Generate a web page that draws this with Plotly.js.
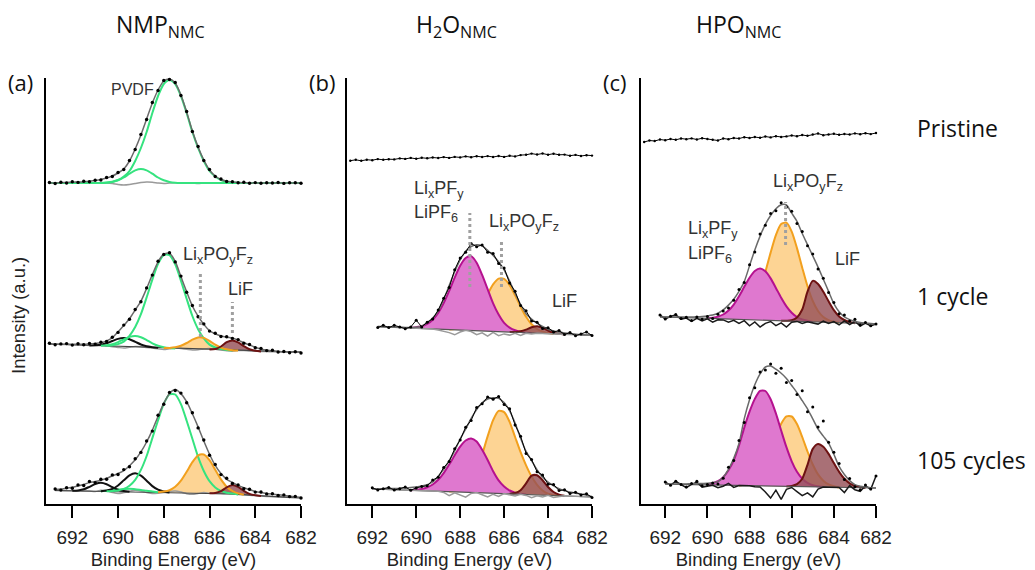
<!DOCTYPE html>
<html><head><meta charset="utf-8">
<script src="https://cdn.plot.ly/plotly-3.0.1.min.js"></script>
<style>html,body{margin:0;padding:0;background:#fff}#chart{width:1035px;height:570px}</style>
</head><body><div id="chart"></div>
<script>
const _ = null;
// Binding energy grid (eV)
const be = [693.00,692.75,692.50,692.25,692.00,691.75,691.50,691.25,691.00,690.75,
            690.50,690.25,690.00,689.75,689.50,689.25,689.00,688.75,688.50,688.25,
            688.00,687.75,687.50,687.25,687.00,686.75,686.50,686.25,686.00,685.75,
            685.50,685.25,685.00,684.75,684.50,684.25,684.00,683.75,683.50,683.25,
            683.00,682.75,682.50,682.25,682.00];
const tickE = [692,690,688,686,684,682];
const panelTitles = ['NMP<sub>NMC</sub>','H<sub>2</sub>O<sub>NMC</sub>','HPO<sub>NMC</sub>'];
const rowLabels = ['Pristine','1 cycle','105 cycles'];

// ---------- (a) NMP  pristine ----------
const a0Off = 321;
const a0Data = [0.5,-0.5,0.8,0,1.2,0.6,1.8,1.2,2.8,3, 5.5,6.5,10.5,13.5,22.5,33.5,48.5,63.5,80.5,92.5, 102.5,103.5,100.5,87.5,71.5,51.5,36.5,22.5,13.5,6.5, 4,1.5,1.3,0.2,0.8,-0.3,0.4,-0.2,0.3,0, 0.5,-0.4,0.2,0.3,-0.2];
const a0Env = [0,0,0.3,0.5,0.8,1,1.3,1.8,2.5,3.5, 5,7,10,14,22,34,48,64,80,93, 102,104,100,88,71,52,36,23,13,7, 3.5,1.8,1,0.5,0.3,0.2,0,0,0,0, 0,0,0,0,0];
const a0Pvdf = [0,0,0,0,0,0,0,0,0,0, 0.5,1.3,3,6.5,12,22,35,51,70,87, 99,103,99,87,70,51,35,22,12,6.5, 3,1.3,0.5,0.2,0,0,0,0,0,0, 0,0,0,0,0];
const a0Pvdf2 = [0,0,0,0,0,0,0,0,0,0, 0.3,1.1,2.7,5.5,9.3,12.6,14,12.6,9.3,5.5, 2.7,1.1,0.3,0,0,0,0,0,0,0, 0,0,0,0,0,0,0,0,0,0, 0,0,0,0,0];
const a0Resid = [0,0,0,0,0,0,0,0,0,0, 0,-0.5,-1.5,-2,-1.5,-0.5,0.5,1,0.8,0, -0.5,0,0.3,0,0,0,-0.5,0,0,0, 0,0,0,0,0,0,0,0,0,0, 0,0,0,0,0];

// ---------- (a) NMP  1 cycle ----------
const a1Off = 152;
const a1Bg = [8,7.8,7.6,7.4,7.2,7,6.8,6.6,6.4,6.2, 6,5.8,5.6,5.4,5.2,5,4.8,4.6,4.4,4.2, 4,3.8,3.6,3.4,3.2,3,2.8,2.6,2.4,2.2, 2,1.8,1.6,1.4,1.2,1,0.8,0.6,0.4,0.2, 0,0,0,0,0];
const a1Env = [0,0,0.2,0.3,0.5,0.7,1,1.3,2,3, 5,8.5,14.5,21,28,37,46,59,73,86, 94,95,87,72,57,43,33,25,19,16, 14,13,12.5,10.5,8,6,4,2.5,1.5,1, 0.5,0.3,0,0,0];
const a1Data = [0.8,-0.5,0.5,1,-0.3,1.2,0.5,2,1.5,3.5, 4.5,9,14,21.5,27.5,37.5,45.5,59.5,72.5,86.5, 93.5,95.5,86.5,72.5,56.5,43.5,32.5,25.5,18.5,16.5, 13.5,13.5,12,11,7.5,6.5,3.5,3,1,1.5, 0,0.5,-0.8,0.3,-1];
const a1Pvdf = [_,_,_,_,_,_,_,_,_,_, 0,0.9,2.3,5,11,20,33,50,68,84, 93,93,84,68,50,33,20,11,5,2.3, 0.9,0.3,0,_,_,_,_,_,_,_, _,_,_,_,_];
const a1Pvdf2 = [_,_,_,_,_,_,_,_,_,0, 0.8,2.1,4.3,7.3,9.9,11,9.9,7.3,4.3,2.1, 0.8,0.2,0,_,_,_,_,_,_,_, _,_,_,_,_,_,_,_,_,_, _,_,_,_,_];
const a1Black = [_,_,_,_,_,_,_,0,0.4,1.1, 2.7,5.2,7.5,8.5,7.5,5.2,2.7,1.1,0.4,0, _,_,_,_,_,_,_,_,_,_, _,_,_,_,_,_,_,_,_,_, _,_,_,_,_];
const a1Poyf = [_,_,_,_,_,_,_,_,_,_, _,_,_,_,_,_,_,_,_,_, 0,0.3,1.1,2.8,5.8,9.4,11.8,11.5,8.7,5.2, 2.4,0.85,0.2,0,_,_,_,_,_,_, _,_,_,_,_];
const a1Lif = [_,_,_,_,_,_,_,_,_,_, _,_,_,_,_,_,_,_,_,_, _,_,_,_,_,_,_,_,0,0.8, 3.5,8,10,8.2,4.6,1.7,0.4,0,_,_, _,_,_,_,_];
const a1Resid = [0,0,0,0,0,0,0,0,0,0.5, 0,-0.5,-1,-1.5,-0.5,0.5,0.5,0,-0.5,-1, -1.5,-0.5,0.5,0,-0.5,-1,-0.5,0.5,1,0.5, 0,-0.5,-0.8,0,0.3,0,0,0,0,0, 0,0,0,0,0];

// ---------- (a) NMP  105 cycles ----------
const a2Off = 6;
const a2Bg = [7.5,7.5,7.4,7.3,7.2,7.1,7,7,6.9,6.8, 6.7,6.6,6.5,6.4,6.3,6.2,6.1,6,5.9,5.8, 5.7,5.6,5.5,5.4,5.3,5.2,5.1,5,4.8,4.6, 4.4,4.2,4,3.6,3.2,2.8,2.4,2,1.6,1.3, 1,0.8,0.6,0.4,0.2];
const a2Env = [_,1,1.5,2.5,3.5,5,6.5,8.5,9.5,11, 13,15.5,18,21,26,32,40,50,62,76, 89,99,103,99,91,79,66,52,39,28, 20,14.5,11.5,9,7,5.5,4.2,3.5,3,2.6, 2.2,1.8,1.3,0.8,0.3];
const a2Data = [_,1.5,0.5,3,2.5,6,5.5,9.5,8.5,12, 12,16.5,17,22,25,33,39.5,51,61,77, 88,100,102,99.5,90,80,65,53,38,29, 19,15.5,10.5,9.5,6,6,3.5,4,2.5,3, 1.5,2.3,0.8,1.2,-0.2];
const a2Pvdf = [_,_,_,_,_,_,_,_,_,_, 0,0.4,1.1,2.7,6,12,22,36,54,72, 88.5,98,98,88.5,72,54,36,22,12,6, 2.7,1.1,0.4,0,_,_,_,_,_,_, _,_,_,_,_];
const a2Pvdf2 = [_,_,_,_,_,_,_,_,_,0, 0.6,1.2,2,2.5,3,2.5,2,1.2,0.6,0, _,_,_,_,_,_,_,_,_,_, _,_,_,_,_,_,_,_,_,_, _,_,_,_,_];
const a2Black1 = [_,_,_,_,_,_,_,_,_,0, 0.8,2.5,6,11.3,16.3,18.5,16.3,11.3,6,2.5, 0.8,0,_,_,_,_,_,_,_,_, _,_,_,_,_,_,_,_,_,_, _,_,_,_,_];
const a2Black2 = [_,_,_,_,0,0.5,1.7,4.2,7.1,8.5, 7.1,4.2,1.7,0.5,0,_,_,_,_,_, _,_,_,_,_,_,_,_,_,_, _,_,_,_,_,_,_,_,_,_, _,_,_,_,_];
const a2Poyf = [_,_,_,_,_,_,_,_,_,_, _,_,_,_,_,_,_,_,_,0, 0.7,2.2,5.7,11.9,20.9,30.6,37.6,38.5,33,23.6, 14.2,7.1,3,1,0,_,_,_,_,_, _,_,_,_,_];
const a2Lif = [_,_,_,_,_,_,_,_,_,_, _,_,_,_,_,_,_,_,_,_, _,_,_,_,_,_,_,_,0,0.5, 2.5,6.5,9,7.5,4,1.3,0.3,0,_,_, _,_,_,_,_];
const a2Resid = [_,0,0,0,0,0,0,0,-0.5,1, 0.5,-1,-2,-1,0.5,1.5,1,-0.5,-1.5,-1, 0,1,1.5,0.5,-1,-1.5,-0.5,0.5,0,0, 0,0,0,0,0,0,0,0,0,0, 0,0,0,0,0];

// ---------- (b) H2O  pristine ----------
const b0Off = 343;
const b0Data = [0.3,1.2,0.2,1.3,0.8,1.9,1.2,1.8,1.6,2.6, 2.1,3.1,2.2,3.2,2.7,3.5,3,3.9,3.1,4.1, 3.6,4.6,3.8,4.8,4,4.9,4,5,4.1,5.2, 4.6,5.9,6.2,7.4,6.5,7.5,6.3,7.3,6.2,6.4, 5.3,6.1,5,5.8,5.4];

// ---------- (b) H2O  1 cycle ----------
const b1Off = 169;
const b1Bg = [9.5,9.3,9.1,8.8,8.6,8.4,8.2,7.9,7.7,7.5, 7.3,7,6.8,6.6,6.3,6.1,5.9,5.7,5.4,5.2, 5,4.7,4.5,4.3,4.1,3.8,3.6,3.4,3.1,2.9, 2.7,2.5,2.2,2,1.8,1.6,1.3,1.1,0.9,0.6, 0.4,0.2,0,0,0];
const b1Env = [_,_,_,_,_,0,0,0,0,0.2, 0.3,0.6,1,2.2,6,11,18,30,44,58, 70,79,84,86,85,81,76,70,62,51, 39,28,19,14,10,7,4.5,3,2,1.5, 1,0.5,0.2,0,0];
const b1Data = [_,_,_,_,_,-1,1.5,-0.5,2,0.5, -1,1,8,1.5,6.5,10,19,31,42,60, 72,78,87,84,86,79,78,68,64,49, 41,27,22,12,11,5,6,2,3.5,0, 2,-1,1,3,-0.5];
const b1Pf = [_,_,_,_,_,_,_,_,_,_, _,0,1,2.2,4.7,9.2,16.2,26.2,38.7,52.2, 64.3,72.3,74.4,68,56,42,28,17,9,4.5, 2,0.8,0.3,0,_,_,_,_,_,_, _,_,_,_,_];
const b1Poyf = [_,_,_,_,_,_,_,_,_,_, _,_,_,_,_,_,_,_,0,0.7, 1.9,4.2,8.7,16,25.8,37,47,53,53,47, 37,25.8,16,8.7,4.2,1.9,0.7,0,_,_, _,_,_,_,_];
const b1Lif = [_,_,_,_,_,_,_,_,_,_, _,_,_,_,_,_,_,_,_,_, _,_,_,_,_,_,_,_,_,0, 0.3,1.2,3.2,5.7,7,5.7,3.2,1.2,0.3,0, _,_,_,_,_];
const b1Resid = [_,_,_,_,_,0,0,0,0,0, 0,0,0,0,0,0,-1,-2,-3,-5, -2,0,-1,-4,-2,-5,-1,-4,-2,-3, -1,-3,-0.5,-1,0,0,0,0,0,0, 0,0,0,0,0];

// ---------- (b) H2O  105 cycles ----------
const b2Off = 7;
const b2Bg = [9,8.8,8.6,8.4,8.2,8,7.8,7.6,7.4,7.2, 7,6.8,6.6,6.4,6.2,6,5.8,5.6,5.4,5.2, 5,4.8,4.6,4.4,4.2,4,3.8,3.6,3.4,3.2, 3,2.8,2.6,2.4,2.2,2,1.8,1.6,1.4,1.2, 1,0.8,0.6,0.3,0];
const b2Env = [_,_,_,_,0,0.3,0.5,0.8,1,1.5, 2,2.8,3.5,4.5,6,9,15,22,31,41, 53,63,74,83,90,94,95.5,95,91,83, 71,56,43,34,25,18,13,9.5,7,5, 4,3,2.5,1.5,0.5];
const b2Data = [_,_,_,_,1,-1,0.5,2,-0.5,1, 3,0,2.5,4,5,11,14,24,30,43, 52,65,72,85,89,96,94,97,89,85, 69,58,41,35,23,20,11,11,5,6, 2.5,4,1.5,3,-0.5];
const b2Pf = [_,_,_,_,_,_,_,_,_,_, _,0,0.7,1.6,3.4,6.5,11.4,18.3,27,36.6, 45.4,51.7,54,51,43,33,22,13,7,3.3, 1.4,0.5,0,_,_,_,_,_,_,_, _,_,_,_,_];
const b2Poyf = [_,_,_,_,_,_,_,_,_,_, _,_,_,_,_,_,_,_,0,0.7, 2.1,5.3,11.6,22.5,38.2,56.6,73.1,82.6,81.5,72, 57,42,29,18,10,4.5,1.5,0.4,0,_, _,_,_,_,_];
const b2Lif = [_,_,_,_,_,_,_,_,_,_, _,_,_,_,_,_,_,_,_,_, _,_,_,_,_,_,_,_,_,0, 1,4,11,18.9,19.5,14.8,8.2,3.4,1,0, _,_,_,_,_];
const b2Resid = [_,_,_,_,0,0,0,0,0,0, 0,0,0,0,0,0,0,-1,-4,-1, -3,-5,-1,0,-2,-4,-1,-3,0,-1, -2,0,-1,-3,-1,-2,0,-2,-1,0, 0,0,0,0,0];

// ---------- (c) HPO  pristine ----------
const c0Off = 362;
const c0Data = [0,1.5,1,2.5,1.8,3,2.2,3.5,2.8,3.6, 2.5,3.8,3,2.2,1.5,3.5,2.8,4,3.5,4.8, 4,5,4.2,5.5,4.6,5.8,5,5.6,6.5,5.8, 7,6.2,7.5,8.5,6.8,7.5,8.2,7.2,8,7.5, 8.6,7.8,8.8,7.9,9];

// ---------- (c) HPO  1 cycle ----------
const c1Off = 180;
const c1Bg = [7.7,7.5,7.3,7.1,7,6.8,6.6,6.5,6.3,6.1, 6,5.8,5.6,5.4,5.3,5.1,4.9,4.7,4.6,4.4, 4.2,4,3.9,3.7,3.5,3.3,3.2,3,2.8,2.6, 2.5,2.3,2.1,1.9,1.8,1.6,1.4,1.2,1.1,0.9, 0.7,0.5,0.4,0.2,0];
const c1Env = [_,_,_,0,0,0.2,0.4,0.6,0.8,1, 1.3,1.8,2.5,3.5,5.5,9,14,20,28,38, 54,70,84,96,105,112,116,116,108,100, 88,77,66,55,43,31,19,11,6,3.5, 2,1,0.5,0.2,0];
const c1Data = [_,_,_,2,-2,1,3,-1,0.5,-2.5, 1,-1,2,0,4.5,8,11,19,30,37, 55,68,86,95,107,110,118,114,110,98, 90,76,68,53,44,30,20,9,8,2, 4,-1.5,1,-2,0];
const c1Pf = [_,_,_,_,_,_,_,_,_,_, _,_,0,0.9,2.1,4.4,8.5,14.7,23.1,32.8, 42.1,49,51.5,49,42.1,32.8,23.1,14.7,8.5,4.4, 2.1,0.9,0,_,_,_,_,_,_,_, _,_,_,_,_];
const c1Poyf = [_,_,_,_,_,_,_,_,_,_, _,_,_,_,_,_,_,0,1.6,4.2, 9.1,17.7,30.9,48.3,67.9,85.6,96.8,98.3,89.6,73.3, 53.8,35.4,20.9,11.1,5.2,2.3,0.9,0,_,_, _,_,_,_,_];
const c1Lif = [_,_,_,_,_,_,_,_,_,_, _,_,_,_,_,_,_,_,_,_, _,_,_,_,_,_,0,0.3,1,4, 12,30,41,38.1,30.5,21.1,12.5,6.4,2.9,1.1, 0,_,_,_,_];
const c1Resid = [_,_,_,2,-2,0.8,2.6,-1.6,-0.3,-3.5, -0.3,-2.8,-0.5,-3.5,-1,-1,-3,-1,-4,-1, -6,-2,-7,-3,-1,-5,-2,-6,-1,0, -2,0,-1,-2,1,-1,1,-2,2,-1.5, 2,-2.5,0.5,-2.2,0];

// ---------- (c) HPO  105 cycles ----------
const c2Off = 16;
const c2Bg = [4.3,4.2,4.1,4,3.9,3.8,3.7,3.6,3.5,3.4, 3.3,3.2,3.1,3,2.9,2.8,2.7,2.6,2.5,2.4, 2.3,2.2,2.1,2,1.9,1.8,1.7,1.6,1.5,1.4, 1.3,1.2,1.1,1,0.9,0.8,0.7,0.6,0.5,0.4, 0.3,0.2,0.1,0.05,0];
const c2Env = [_,_,_,_,0,0,0.2,0.4,0.6,0.8, 1,1.3,1.6,2.2,3.5,8,16,27,42,67, 86,101,112,119,120,117,113,108,101,94, 86,78,68,58,51,44,33,21,13,7, 3,1.5,0.8,0.3,0];
const c2Data = [_,_,_,_,2,-1,3,0,-2.5,1, 3.5,-1,0.5,2,1,7,18,25,45,63, 88,98,114,116,122,113,118,104,106,92, 96,75,80,60,66,45,35,24,8,9, 1,-2,3,-1,12];
const c2Pf = [_,_,_,_,_,_,_,_,_,_, _,_,0,1.7,3.9,8,15,25,40,58, 74,86.9,95,95,86.9,72.8,55.8,39.2,25.2,14.8, 8,3.9,1.7,0.7,0,_,_,_,_,_, _,_,_,_,_];
const c2Poyf = [_,_,_,_,_,_,_,_,_,_, _,_,_,_,_,_,_,_,0,1.1, 2.8,6.4,12.6,22.4,35.3,49.7,62.5,70,70,62.5, 49.7,35.3,22.4,12.6,6.4,2.8,1.1,0,_,_, _,_,_,_,_];
const c2Lif = [_,_,_,_,_,_,_,_,_,_, _,_,_,_,_,_,_,_,_,_, _,_,_,_,_,_,_,0,0.6,2.5, 8,22,38,43,40.3,33.3,24.2,15.5,8.7,4.3, 1.9,0.7,0,_,_];
const c2Resid = [_,_,_,_,2,-1,2.8,-0.4,-3.1,0.2, 2.5,-2.3,-1.1,-0.2,-2.5,-1,2,-2,0,0, 0,-1,-1,-6,-12,-4,-13,-3,-1,-5, -9,-6,-10,-2,0,0,0,0,-5,2, -2,-3.5,2.2,-1.3,12];

// ================= drawing =================
const COL = {
  green:'#35e37f', black:'#111111',
  orangeLine:'#f2a01e', orangeFill:'#fdd494',
  magLine:'#b5118f', magFill:'#df78cf',
  brownLine:'#6d1212', brownFill:'rgba(150,80,88,0.82)',
  env:'#6a6a6a', resid:'#9a9a9a', base:'#444444'
};
const traces = [];
function absY(off, bg, vals){ return vals.map((v,i)=> v==null?null: off + (bg?bg[i]:0) + v); }
function lineT(ax, off, bg, vals, color, width, extra){
  traces.push(Object.assign({type:'scatter', mode:'lines', x:be, y:absY(off,bg,vals),
    xaxis:'x'+ax, yaxis:'y'+ax, line:{color:color, width:width, shape:'spline', smoothing:0.7},
    connectgaps:false, hoverinfo:'skip', showlegend:false}, extra||{}));
}
function fillT(ax, off, bg, vals, color){
  const idx = []; vals.forEach((v,i)=>{ if(v!=null) idx.push(i); });
  const rev = idx.slice().reverse();
  const x = idx.map(i=>be[i]).concat(rev.map(i=>be[i]));
  const y = idx.map(i=>off+(bg?bg[i]:0)+vals[i]).concat(rev.map(i=>off+(bg?bg[i]:0)));
  traces.push({type:'scatter', mode:'lines', x:x, y:y, xaxis:'x'+ax, yaxis:'y'+ax,
    fill:'toself', fillcolor:color, line:{width:0}, hoverinfo:'skip', showlegend:false});
}
function dataT(ax, off, bg, vals, msize, mode){
  traces.push({type:'scatter', mode:mode||'lines+markers', x:be, y:absY(off,bg,vals),
    xaxis:'x'+ax, yaxis:'y'+ax, line:{color:'#000', width:1}, marker:{color:'#000', size:msize||3},
    connectgaps:false, cliponaxis:false, hoverinfo:'skip', showlegend:false});
}
function baseT(ax, off, bg, ref, color){
  const v = ref.map(r=> r==null?null:0);
  lineT(ax, off, bg, v, color||COL.base, 1.2, {line:{color:color||COL.base,width:1.2,shape:'linear'}});
}

// ---- panel a ----
lineT('', a0Off, null, a0Resid, COL.resid, 1.5);
lineT('', a0Off, null, a0Pvdf2, COL.green, 2);
lineT('', a0Off, null, a0Pvdf, COL.green, 2);
lineT('', a0Off, null, a0Env, COL.env, 1.5);
dataT('', a0Off, null, a0Data, 3.4, 'markers');

fillT('', a1Off, a1Bg, a1Poyf, COL.orangeFill);
fillT('', a1Off, a1Bg, a1Lif, COL.brownFill);
lineT('', a1Off, a1Bg, a1Resid, COL.resid, 1.5);
baseT('', a1Off, a1Bg, a1Env);
lineT('', a1Off, a1Bg, a1Black, COL.black, 2);
lineT('', a1Off, a1Bg, a1Pvdf2, COL.green, 2);
lineT('', a1Off, a1Bg, a1Pvdf, COL.green, 2);
lineT('', a1Off, a1Bg, a1Poyf, COL.orangeLine, 2);
lineT('', a1Off, a1Bg, a1Lif, COL.brownLine, 2);
lineT('', a1Off, a1Bg, a1Env, COL.env, 1.5);
dataT('', a1Off, a1Bg, a1Data, 3.4, 'markers');

fillT('', a2Off, a2Bg, a2Poyf, COL.orangeFill);
fillT('', a2Off, a2Bg, a2Lif, COL.brownFill);
lineT('', a2Off, a2Bg, a2Resid, COL.resid, 1.5);
baseT('', a2Off, a2Bg, a2Env);
lineT('', a2Off, a2Bg, a2Pvdf2, COL.green, 2);
lineT('', a2Off, a2Bg, a2Black2, COL.black, 2);
lineT('', a2Off, a2Bg, a2Black1, COL.black, 2);
lineT('', a2Off, a2Bg, a2Pvdf, COL.green, 2);
lineT('', a2Off, a2Bg, a2Poyf, COL.orangeLine, 2);
lineT('', a2Off, a2Bg, a2Lif, COL.brownLine, 2);
lineT('', a2Off, a2Bg, a2Env, COL.env, 1.5);
dataT('', a2Off, a2Bg, a2Data, 3.4, 'markers');

// ---- panels b and c (same component set) ----
function fitted(ax, off, bg, env, data, pf, poyf, lif, resid, residCol, dmode){
  fillT(ax, off, bg, poyf, COL.orangeFill);
  lineT(ax, off, bg, poyf, COL.orangeLine, 2);
  fillT(ax, off, bg, pf, COL.magFill);
  lineT(ax, off, bg, pf, COL.magLine, 2);
  fillT(ax, off, bg, lif, COL.brownFill);
  lineT(ax, off, bg, lif, COL.brownLine, 2);
  baseT(ax, off, bg, env, '#555');
  lineT(ax, off, bg, resid, residCol, 1.5, {line:{color:residCol, width:1.5, shape:'linear'}});
  lineT(ax, off, bg, env, COL.env, 1.5);
  dataT(ax, off, bg, data, 3, dmode);
}
dataT('2', b0Off, null, b0Data, 2.4);
fitted('2', b1Off, b1Bg, b1Env, b1Data, b1Pf, b1Poyf, b1Lif, b1Resid, COL.resid, 'lines+markers');
fitted('2', b2Off, b2Bg, b2Env, b2Data, b2Pf, b2Poyf, b2Lif, b2Resid, COL.resid, 'lines+markers');
dataT('3', c0Off, null, c0Data, 2.4);
fitted('3', c1Off, c1Bg, c1Env, c1Data, c1Pf, c1Poyf, c1Lif, c1Resid, '#1a1a1a', 'markers');
fitted('3', c2Off, c2Bg, c2Env, c2Data, c2Pf, c2Poyf, c2Lif, c2Resid, '#1a1a1a', 'markers');

// ---- axes ----
const W = 1035;
const arial = 'Liberation Sans, Arial, sans-serif';
const tickFont = {family:arial, size:19, color:'#222'};
function xAx(d0, d1, anchor){
  return {domain:[d0/W, d1/W], anchor:anchor, range:[693.15, 682], showline:true, linecolor:'#000', linewidth:2,
    ticks:'outside', ticklen:12, tickwidth:2, tickcolor:'#000', tickvals:tickE, ticktext:tickE.map(String),
    tickfont:tickFont, ticklabelstandoff:3, showgrid:false, zeroline:false, fixedrange:true,
    title:{text:'Binding Energy (eV)', font:{family:arial, size:18.5, color:'#222'}, standoff:6}};
}
function yAx(anchor){
  return {domain:[0,1], anchor:anchor, range:[0,426], showline:true, linecolor:'#000', linewidth:2,
    showticklabels:false, ticks:'', showgrid:false, zeroline:false, fixedrange:true};
}
const py = p => (504 - p)/426;   // pixel row -> paper y
const px = p => p/W;
const cal = {family:'Open Sans, Noto Sans, sans-serif', color:'#111'};
const lab = {family:arial, size:18, color:'#333'};
const ann = [];
function A(text, x, y, font, xa, ya, extra){ ann.push(Object.assign({text:text, xref:'paper', yref:'paper', x:px(x), y:py(y), showarrow:false, font:font, xanchor:xa||'left', yanchor:ya||'middle'}, extra||{})); }
// column titles
A(panelTitles[0], 160, 25, Object.assign({size:23}, cal), 'center');
A(panelTitles[1], 456, 25, Object.assign({size:23}, cal), 'center');
A(panelTitles[2], 738, 25, Object.assign({size:23}, cal), 'center');
A('(a)', 20, 82, Object.assign({size:22}, cal), 'center');
A('(b)', 322, 82, Object.assign({size:22}, cal), 'center');
A('(c)', 615, 82, Object.assign({size:22}, cal), 'center');
A(rowLabels[0], 915, 128, Object.assign({size:23}, cal));
A(rowLabels[1], 915, 296, Object.assign({size:23}, cal));
A(rowLabels[2], 915, 460, Object.assign({size:23}, cal));
A('Intensity (a.u.)', 18, 316, {family:arial, size:18.5, color:'#222'}, 'center', 'middle', {textangle:-90});
// peak labels
A('PVDF', 109, 90, Object.assign({}, lab, {size:16}));
A('Li<sub>x</sub>PO<sub>y</sub>F<sub>z</sub>', 181, 255, lab);
A('LiF', 226, 289, lab);
A('Li<sub>x</sub>PF<sub>y</sub>', 412, 189, lab);
A('LiPF<sub>6</sub>', 412, 213, lab);
A('Li<sub>x</sub>PO<sub>y</sub>F<sub>z</sub>', 487, 222, lab);
A('LiF', 550, 301, lab);
A('Li<sub>x</sub>PO<sub>y</sub>F<sub>z</sub>', 771, 182, lab);
A('Li<sub>x</sub>PF<sub>y</sub>', 686, 229, lab);
A('LiPF<sub>6</sub>', 686, 254, lab);
A('LiF', 833, 259, lab);

// dotted peak guides
function guide(ax, e, y0, y1){ return {type:'line', xref:'x'+ax, yref:'y'+ax, x0:e, x1:e, y0:y0, y1:y1, layer:'above', line:{color:'#a0a0a0', width:3, dash:'dot'}}; }
const shapes = [guide('',686.4,167,231), guide('',685.0,171,202), guide('2',687.56,217,291), guide('2',686.12,217,262), guide('3',686.29,259,302)];

const layout = {
  width:1035, height:570, margin:{l:0, r:0, t:78, b:66}, paper_bgcolor:'#fff', plot_bgcolor:'rgba(0,0,0,0)',
  showlegend:false,
  xaxis: xAx(46, 301, 'y'), yaxis: yAx('x'),
  xaxis2: xAx(347, 592, 'y2'), yaxis2: yAx('x2'),
  xaxis3: xAx(641, 876, 'y3'), yaxis3: yAx('x3'),
  annotations: ann, shapes: shapes
};
Plotly.newPlot('chart', traces, layout, {staticPlot:true, displayModeBar:false});
</script>
</body></html>
